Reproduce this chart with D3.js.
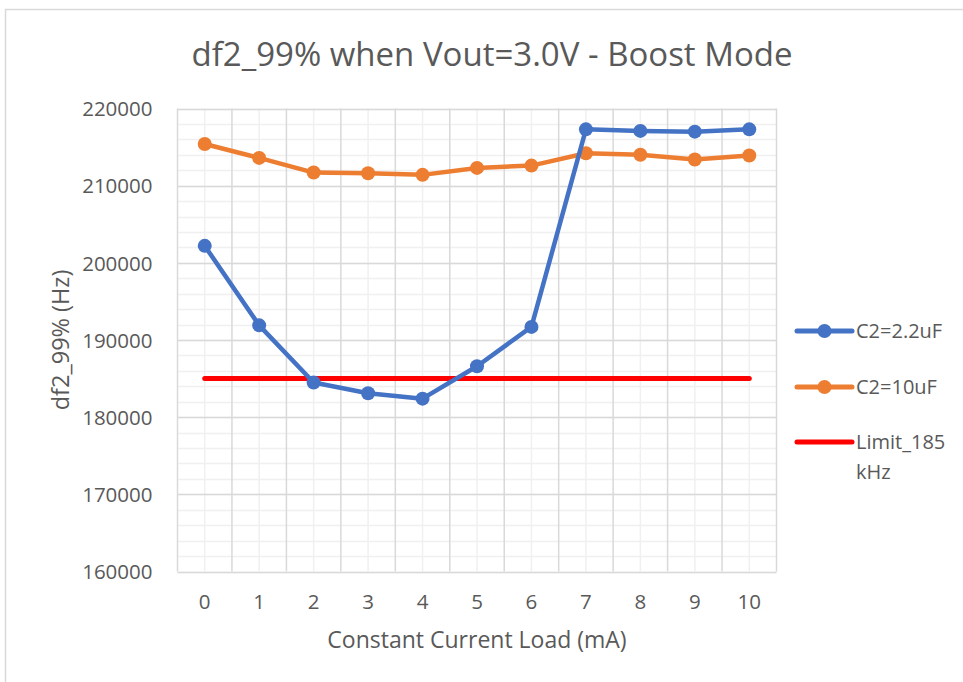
<!DOCTYPE html>
<html>
<head>
<meta charset="utf-8">
<script src="https://cdn.jsdelivr.net/npm/d3@7"></script>
<style>
  body { margin: 0; background: #fff; }
  text { font-family: "Open Sans", sans-serif; fill: #595959; }
</style>
</head>
<body>
<svg id="chart"></svg>
<script>
var width = 963;
var height = 682;

var loads = [0, 1, 2, 3, 4, 5, 6, 7, 8, 9, 10];
var c22uF = [202200, 191900, 184500, 183100, 182400, 186600, 191700, 217300, 217100, 217000, 217300];
var c10uF = [215400, 213600, 211700, 211600, 211400, 212300, 212600, 214200, 214000, 213400, 213900];
var limit = [185000, 185000, 185000, 185000, 185000, 185000, 185000, 185000, 185000, 185000, 185000];
var yTicks = [160000, 170000, 180000, 190000, 200000, 210000, 220000];

var plot = {left: 177.5, right: 776.5, top: 108.5, bottom: 571.5};

var svg = d3.select("#chart")
    .attr("width", width)
    .attr("height", height)
    .attr("xmlns", "http://www.w3.org/2000/svg");

// chart frame
svg.append("rect")
    .attr("x", 5.5).attr("y", 9.5)
    .attr("width", 1000).attr("height", 1000)
    .attr("fill", "none")
    .attr("stroke", "#d9d9d9")
    .attr("stroke-width", 1.5);

var x = d3.scaleBand()
    .domain(loads)
    .range([plot.left, plot.right]);

var y = d3.scaleLinear()
    .domain([160000, 220000])
    .range([plot.bottom, plot.top]);

var cx = function (d) { return x(d) + x.bandwidth() / 2; };

// minor grid
var minorY = d3.range(160000, 220001, 2000);
svg.append("g").selectAll("line")
    .data(minorY)
    .enter().append("line")
    .attr("x1", plot.left).attr("x2", plot.right)
    .attr("y1", function (d) { return Math.round(y(d)) + 0.5; })
    .attr("y2", function (d) { return Math.round(y(d)) + 0.5; })
    .attr("stroke", "#f0f0f0").attr("stroke-width", 1.5);
svg.append("g").selectAll("line")
    .data(loads)
    .enter().append("line")
    .attr("x1", function (d) { return cx(d); })
    .attr("x2", function (d) { return cx(d); })
    .attr("y1", plot.top).attr("y2", plot.bottom)
    .attr("stroke", "#f0f0f0").attr("stroke-width", 1.5);

// major grid
svg.append("g").selectAll("line")
    .data(yTicks)
    .enter().append("line")
    .attr("x1", plot.left).attr("x2", plot.right)
    .attr("y1", function (d) { return Math.round(y(d)) + 0.5; })
    .attr("y2", function (d) { return Math.round(y(d)) + 0.5; })
    .attr("stroke", "#d9d9d9").attr("stroke-width", 1.5);
svg.append("g").selectAll("line")
    .data(loads.concat([11]))
    .enter().append("line")
    .attr("x1", function (d, i) { return plot.left + i * x.bandwidth(); })
    .attr("x2", function (d, i) { return plot.left + i * x.bandwidth(); })
    .attr("y1", plot.top).attr("y2", plot.bottom)
    .attr("stroke", "#d9d9d9").attr("stroke-width", 1.5);

// axes (text only, Excel-like)
var yAxis = svg.append("g")
    .attr("transform", "translate(" + (plot.left - 22) + ",0)")
    .call(d3.axisLeft(y).tickValues(yTicks).tickSize(0).tickFormat(d3.format("d")));
yAxis.select(".domain").remove();
yAxis.selectAll("text")
    .attr("dy", "0.35em")
    .style("font-size", "20.5px")
    .style("font-family", "Open Sans")
    .attr("fill", "#595959");

var xAxis = svg.append("g")
    .attr("transform", "translate(0," + (plot.bottom + 20) + ")")
    .call(d3.axisBottom(x).tickSize(0));
xAxis.select(".domain").remove();
xAxis.selectAll("text")
    .attr("dy", "0.71em")
    .style("font-size", "20.5px")
    .style("font-family", "Open Sans")
    .attr("fill", "#595959");

// titles
svg.append("text")
    .attr("x", 492).attr("y", 66)
    .attr("text-anchor", "middle")
    .style("font-size", "33px")
    .text("df2_99% when Vout=3.0V - Boost Mode");

svg.append("text")
    .attr("x", (plot.left + plot.right) / 2).attr("y", 648)
    .attr("text-anchor", "middle")
    .style("font-size", "23px")
    .text("Constant Current Load (mA)");

svg.append("text")
    .attr("transform", "translate(69," + ((plot.top + plot.bottom) / 2) + ") rotate(-90)")
    .attr("text-anchor", "middle")
    .style("font-size", "23.5px")
    .text("df2_99% (Hz)");

// series
var series = [
    {name: "C2=2.2uF", values: c22uF, color: "#4472C4", markers: true},
    {name: "C2=10uF", values: c10uF, color: "#ED7D31", markers: true},
    {name: "Limit_185 kHz", values: limit, color: "#FF0000", markers: false}
];

var line = d3.line()
    .x(function (d, i) { return cx(loads[i]); })
    .y(function (d) { return y(d); });

// draw limit first so markers of other series sit on top
[series[2], series[1], series[0]].forEach(function (s) {
    svg.append("path")
        .datum(s.values)
        .attr("d", line)
        .attr("fill", "none")
        .attr("stroke", s.color)
        .attr("stroke-width", s.markers ? 4.5 : 5)
        .attr("stroke-linejoin", "round")
        .attr("stroke-linecap", "round");
    if (s.markers) {
        svg.append("g").selectAll("circle")
            .data(s.values)
            .enter().append("circle")
            .attr("cx", function (d, i) { return cx(loads[i]); })
            .attr("cy", function (d) { return y(d); })
            .attr("r", 7)
            .attr("fill", s.color);
    }
});

// legend
var legendY = [331, 387, 442];
series.forEach(function (s, i) {
    var g = svg.append("g").attr("transform", "translate(797," + legendY[i] + ")");
    g.append("line")
        .attr("x1", 0).attr("x2", 55)
        .attr("stroke", s.color)
        .attr("stroke-width", 5)
        .attr("stroke-linecap", "round");
    if (s.markers) {
        g.append("circle").attr("cx", 27.5).attr("r", 7).attr("fill", s.color);
    }
    var t = g.append("text")
        .attr("x", 59).attr("dy", "0.35em")
        .style("font-size", "20px");
    if (i === 2) {
        t.append("tspan").attr("x", 59).text("Limit_185");
        t.append("tspan").attr("x", 59).attr("dy", "1.5em").text("kHz");
    } else {
        t.text(s.name);
    }
});
</script>
</body>
</html>
